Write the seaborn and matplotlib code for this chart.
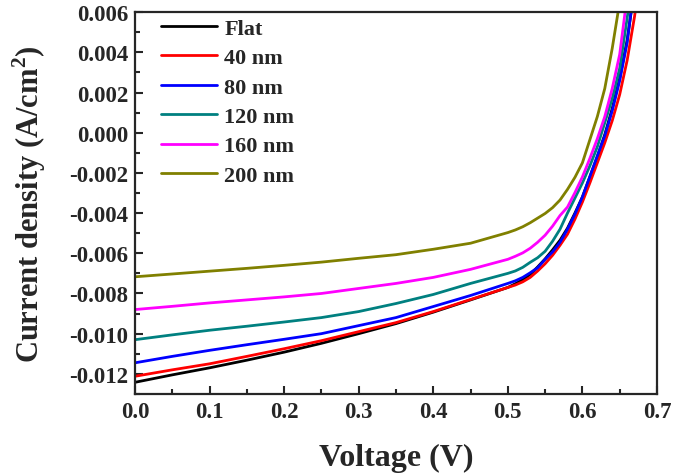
import numpy as np
import pandas as pd
import matplotlib
matplotlib.use('Agg')
import matplotlib.pyplot as plt
from matplotlib.ticker import MultipleLocator, FormatStrFormatter
import seaborn as sns

# voltage grid (V)
voltage = [0.0, 0.05, 0.1, 0.15, 0.2, 0.25, 0.3, 0.35, 0.4, 0.45, 0.5,
           0.51, 0.52, 0.53, 0.54, 0.55, 0.56, 0.57, 0.58, 0.59, 0.6,
           0.61, 0.62, 0.63, 0.64, 0.65, 0.66, 0.67, 0.68]

# current density (A/cm^2)
j_flat = [-0.01242, -0.01205, -0.0117, -0.01132, -0.01092, -0.01048, -0.0100, -0.0095,
          -0.00893, -0.00832, -0.0077, -0.00752, -0.00732, -0.00705, -0.00668, -0.00628,
          -0.00583, -0.00535, -0.00475, -0.0040, -0.0032, -0.0022, -0.0012, -0.0001,
          0.0012, 0.0027, 0.0046, 0.0072]
j_40 = [-0.01212, -0.0118, -0.0115, -0.01113, -0.01075, -0.01035, -0.0099, -0.00945,
        -0.0089, -0.0083, -0.0077, -0.00758, -0.00742, -0.0072, -0.00688, -0.00652,
        -0.0061, -0.0056, -0.00505, -0.0043, -0.00345, -0.0025, -0.0015, -0.0005,
        0.0006, 0.0019, 0.0036, 0.0058, 0.0085]
j_80 = [-0.01145, -0.01113, -0.01083, -0.01055, -0.01028, -0.01, -0.0096, -0.0092,
        -0.00865, -0.0081, -0.0075, -0.00737, -0.0072, -0.00697, -0.00672, -0.0063,
        -0.00593, -0.00545, -0.0048, -0.00405, -0.0032, -0.00218, -0.00115, -0.00015,
        0.0011, 0.0026, 0.0045, 0.0074]
j_120 = [-0.0103, -0.01006, -0.00983, -0.00963, -0.00942, -0.0092, -0.0089, -0.0085,
         -0.00805, -0.0075, -0.0070, -0.00688, -0.0067, -0.00645, -0.00622, -0.0059,
         -0.0054, -0.0048, -0.0040, -0.00325, -0.0025, -0.00165, -0.0007, 0.0005,
         0.0017, 0.0032, 0.0057, 0.0085]
j_160 = [-0.0088, -0.00864, -0.00847, -0.00832, -0.00817, -0.008, -0.00775, -0.0075,
         -0.0072, -0.0068, -0.0063, -0.00615, -0.00598, -0.00575, -0.00545, -0.0051,
         -0.00465, -0.00412, -0.0037, -0.00298, -0.0022, -0.00128, -0.0003, 0.0008,
         0.0022, 0.0039, 0.0068]
j_200 = [-0.00717, -0.00703, -0.00689, -0.00675, -0.0066, -0.00644, -0.00625, -0.00607,
         -0.0058, -0.0055, -0.00497, -0.00484, -0.00468, -0.00448, -0.00425, -0.00402,
         -0.00373, -0.00335, -0.00282, -0.00222, -0.0015, -0.00035, 0.0008, 0.0022,
         0.0042, 0.0065, 0.009]

labels = ['Flat', '40 nm', '80 nm', '120 nm', '160 nm', '200 nm']
colors = ['#000000', '#ff0000', '#0000ff', '#008080', '#ff00ff', '#808000']
series = [j_flat, j_40, j_80, j_120, j_160, j_200]

frames = []
for name, j in zip(labels, series):
    frames.append(pd.DataFrame({'voltage': voltage[:len(j)], 'current': j, 'sample': name}))
df = pd.concat(frames, ignore_index=True)

sns.set_style('ticks')
plt.rcParams['font.family'] = ['Liberation Serif', 'DejaVu Serif']
plt.rcParams['font.weight'] = 'bold'
plt.rcParams['axes.unicode_minus'] = False
plt.rcParams['mathtext.fontset'] = 'custom'
plt.rcParams['mathtext.rm'] = 'Liberation Serif:bold'
plt.rcParams['mathtext.bf'] = 'Liberation Serif:bold'

fig = plt.figure(figsize=(6.75, 4.77), dpi=100)
ax = fig.add_axes([0.2, 0.172, 0.7733, 0.8005])

sns.lineplot(data=df, x='voltage', y='current', hue='sample', palette=colors,
             hue_order=labels, linewidth=2.0, sort=False, estimator=None, ax=ax)

ax.set_xlim(0, 0.7)
ax.set_ylim(-0.013, 0.006)
ax.xaxis.set_major_locator(MultipleLocator(0.1))
ax.xaxis.set_minor_locator(MultipleLocator(0.05))
ax.yaxis.set_major_locator(MultipleLocator(0.002))
ax.yaxis.set_minor_locator(MultipleLocator(0.001))
ax.xaxis.set_major_formatter(FormatStrFormatter('%.1f'))
ax.yaxis.set_major_formatter(FormatStrFormatter('%.3f'))
ax.tick_params(which='both', direction='in', width=1.5, labelsize=16.5)
ax.tick_params(which='major', length=6, pad=5)
ax.tick_params(which='minor', length=3.5)
for lab in ax.get_xticklabels() + ax.get_yticklabels():
    lab.set_fontweight('bold')
for sp in ax.spines.values():
    sp.set_visible(True)
    sp.set_linewidth(1.6)

ax.set_xlabel('Voltage (V)', fontsize=23, fontweight='bold', labelpad=15)
ax.set_ylabel(r'Current density (A/cm$^{\rm 2}$)', fontsize=22, fontweight='bold', labelpad=15)

ax.legend(loc='upper left', bbox_to_anchor=(0.02, 1.025), frameon=False,
          prop={'size': 16, 'weight': 'bold'}, handlelength=2.5,
          handletextpad=0.35, labelspacing=0.4, borderaxespad=0.3)

fig.savefig('out.png', dpi=100)
